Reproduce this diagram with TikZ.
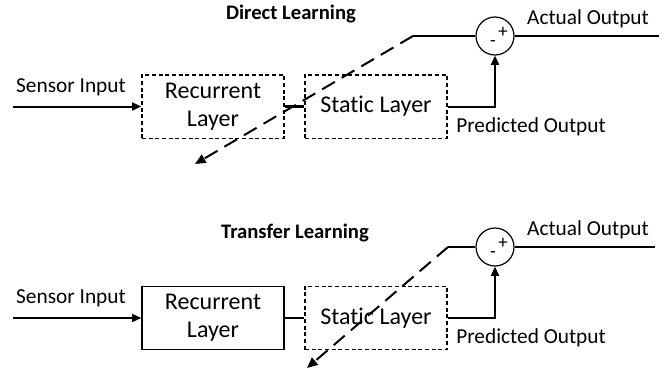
\documentclass[tikz,border=0pt]{standalone}
\usepackage{fontspec}
\setmainfont{Carlito}[Ligatures=NoCommon]
\usetikzlibrary{arrows.meta, positioning, calc}
\tikzset{
  layerbox/.style={rectangle, draw, line width=1pt, #1,
                   minimum width=106.5pt, minimum height=47.5pt,
                   align=center, font=\fontsize{18}{21}\selectfont},
  layerbox/.default=solid,
  sumnode/.style={circle, draw, line width=0.9pt, minimum size=28.5pt, inner sep=0pt},
  sgn/.style={font=\fontsize{14}{14}\selectfont, inner sep=0pt},
  lbl/.style={font=\fontsize{16}{19}\selectfont, inner sep=0pt},
  ttl/.style={font=\fontsize{15.5}{18}\selectfont\bfseries, inner sep=0pt},
  arr/.style={-{Triangle[length=7pt, width=6pt]}, line width=1.5pt},
  wire/.style={line width=1.5pt},
  link/.style={line width=2.2pt},
  grad/.style={-{Triangle[length=8pt, width=7pt]}, line width=1.5pt,
               dash pattern=on 11pt off 6pt},
}

\begin{document}
\begin{tikzpicture}[x=0.75pt, y=-0.75pt]
  \useasboundingbox (0,0) rectangle (667,375);

  % direct learning
  \node[ttl] (title1) at (291,14) {Direct Learning};
  \node[layerbox=densely dashed] (rec1) at (213,106.5) {Recurrent\\Layer};
  \node[layerbox=densely dashed] (stat1) at (376,106.5) {Static Layer};
  \node[sumnode] (sum1) at (495,36) {};
  \node[sgn] (plus1) at ($(sum1.center)+(8,-4)$) {+};
  \node[sgn] (minus1) at ($(sum1.center)+(-2,8)$) {-};
  \coordinate (in1) at (13,106.5);
  \coordinate (out1) at (659,36);
  \coordinate (kink1) at (413,36);
  \coordinate (back1) at (195,164);

  \draw[arr] (in1) -- (rec1);
  \node[lbl] (sens1) at (71,87) {Sensor Input};
  \draw[link] (rec1) -- (stat1);
  \draw[arr] (stat1.east) -| (sum1.south);
  \node[lbl, anchor=north west] (pred1) at (456,117) {Predicted Output};
  \draw[wire] (sum1.east) -- (out1);
  \node[lbl] (act1) at (588,19) {Actual Output};
  \draw[wire] (sum1.west) -- (kink1);
  \draw[grad] (kink1) -- (back1);

  % transfer learning
  \node[ttl] (title2) at (295,233) {Transfer Learning};
  \node[layerbox] (rec2) at (213,318) {Recurrent\\Layer};
  \node[layerbox=densely dashed] (stat2) at (376,318) {Static Layer};
  \node[sumnode] (sum2) at (495,247) {};
  \node[sgn] (plus2) at ($(sum2.center)+(8,-4)$) {+};
  \node[sgn] (minus2) at ($(sum2.center)+(-2,8)$) {-};
  \coordinate (in2) at (13,318);
  \coordinate (out2) at (655,247);
  \coordinate (kink2) at (448,247);
  \coordinate (back2) at (307,368);

  \draw[arr] (in2) -- (rec2);
  \node[lbl] (sens2) at (71,298) {Sensor Input};
  \draw[link] (rec2) -- (stat2);
  \draw[arr] (stat2.east) -| (sum2.south);
  \node[lbl, anchor=north west] (pred2) at (456,328) {Predicted Output};
  \draw[wire] (sum2.east) -- (out2);
  \node[lbl] (act2) at (588,230) {Actual Output};
  \draw[wire] (sum2.west) -- (kink2);
  \draw[grad] (kink2) -- (back2);
\end{tikzpicture}
\end{document}
